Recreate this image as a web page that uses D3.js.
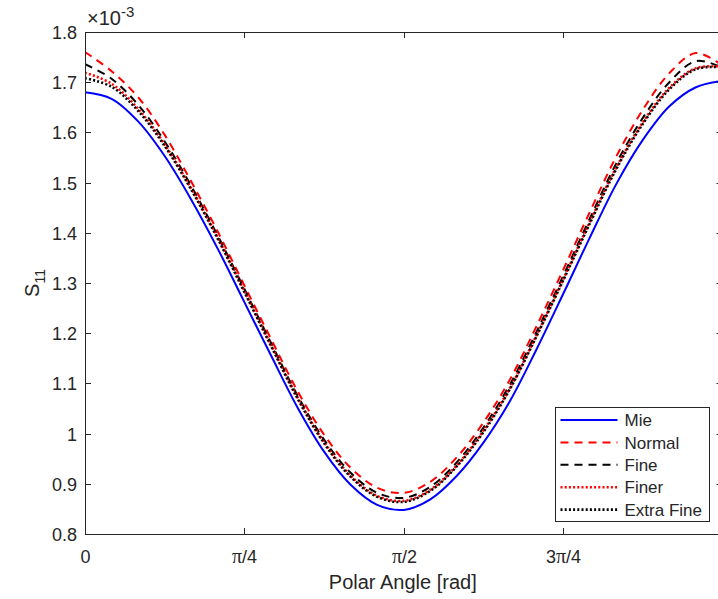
<!DOCTYPE html>
<html>
<head>
<meta charset="utf-8">
<script src="https://cdn.jsdelivr.net/npm/d3@7"></script>
<style>
  body { margin: 0; background: #fff; }
  text { font-family: "Liberation Sans", Arial, sans-serif; fill: #262626; }
</style>
</head>
<body>
<svg width="718" height="599"></svg>
<script>
// polar angle in degrees (plotted in rad)
var angles = [0, 7.5, 15, 22.5, 30, 37.5, 45, 52.5, 60, 67.5, 75, 82.5, 90,
    97.5, 105, 112.5, 120, 127.5, 135, 142.5, 150, 157.5, 165, 172.5, 180];

// S11 values, units of 1e-3
var mie = [1.680, 1.667, 1.622, 1.553, 1.466, 1.368, 1.262, 1.156, 1.052, 0.964, 0.898, 0.858, 0.848,
    0.869, 0.916, 0.982, 1.065, 1.168, 1.278, 1.390, 1.497, 1.585, 1.652, 1.690, 1.703];
var normal = [1.760, 1.722, 1.670, 1.595, 1.502, 1.402, 1.295, 1.189, 1.085, 0.998, 0.932, 0.892, 0.882,
    0.904, 0.953, 1.022, 1.108, 1.214, 1.326, 1.441, 1.552, 1.645, 1.718, 1.758, 1.733];
var fine = [1.736, 1.707, 1.655, 1.582, 1.493, 1.394, 1.288, 1.181, 1.076, 0.988, 0.922, 0.882, 0.872,
    0.894, 0.943, 1.012, 1.098, 1.203, 1.314, 1.428, 1.538, 1.629, 1.700, 1.742, 1.729];
var finer = [1.719, 1.697, 1.647, 1.576, 1.488, 1.390, 1.284, 1.177, 1.072, 0.983, 0.916, 0.876, 0.866,
    0.888, 0.937, 1.006, 1.091, 1.196, 1.307, 1.421, 1.530, 1.620, 1.689, 1.728, 1.731];
var extraFine = [1.708, 1.691, 1.643, 1.573, 1.486, 1.388, 1.282, 1.175, 1.070, 0.981, 0.914, 0.874, 0.864,
    0.886, 0.935, 1.003, 1.089, 1.194, 1.305, 1.418, 1.527, 1.617, 1.686, 1.726, 1.730];

var seriesNames = ["Mie", "Normal", "Fine", "Finer", "Extra Fine"];
var yTicks = [0.8, 0.9, 1, 1.1, 1.2, 1.3, 1.4, 1.5, 1.6, 1.7, 1.8];
var xTicks = [0, Math.PI / 4, Math.PI / 2, 3 * Math.PI / 4, Math.PI];
// het label bij pi valt buiten het venster, net als in het origineel
var xTickLabels = [["0"], ["π", "/4"], ["π", "/2"], ["3", "π", "/4"], []];

var series = [
    {name: seriesNames[0], values: mie, color: "#0000ff", dash: null, width: 2},
    {name: seriesNames[1], values: normal, color: "#ff0000", dash: "8,6", width: 2},
    {name: seriesNames[2], values: fine, color: "#000000", dash: "8,6", width: 2},
    {name: seriesNames[3], values: finer, color: "#ff0000", dash: "2,2.2", width: 2.6},
    {name: seriesNames[4], values: extraFine, color: "#000000", dash: "2,2.2", width: 2.6}
];

var svg = d3.select("svg"),
    margin = {top: 32, left: 85},
    width = 637.5,
    height = 502;

var x = d3.scaleLinear().domain([0, Math.PI]).range([0, width]),
    y = d3.scaleLinear().domain([0.8, 1.8]).range([height, 0]);

var g = svg.append("g")
    .attr("transform", "translate(" + margin.left + "," + margin.top + ")");

g.append("clipPath").attr("id", "clip")
    .append("rect").attr("width", width).attr("height", height);

var line = d3.line()
    .x(function (d) { return x(d.a * Math.PI / 180); })
    .y(function (d) { return y(d.v); })
    .curve(d3.curveCatmullRom);

// lijnen
var lines = g.append("g").attr("clip-path", "url(#clip)");
series.forEach(function (s) {
    var pts = angles.map(function (a, i) { return {a: a, v: s.values[i]}; });
    lines.append("path")
        .datum(pts)
        .attr("d", line)
        .attr("fill", "none")
        .attr("stroke", s.color)
        .attr("stroke-width", s.width)
        .attr("stroke-dasharray", s.dash);
});

// assen
var axisColor = "#262626";
var tickLen = 6;

g.append("rect")
    .attr("x", 0.5).attr("y", 0.5)
    .attr("width", width).attr("height", height)
    .attr("fill", "none")
    .attr("stroke", axisColor)
    .attr("stroke-width", 1);

yTicks.forEach(function (t) {
    var yy = Math.round(y(t)) + 0.5;
    g.append("line").attr("x1", 0).attr("x2", tickLen).attr("y1", yy).attr("y2", yy)
        .attr("stroke", axisColor);
    g.append("line").attr("x1", width - tickLen).attr("x2", width).attr("y1", yy).attr("y2", yy)
        .attr("stroke", axisColor);
    g.append("text")
        .attr("x", -8).attr("y", yy)
        .attr("dy", "0.35em")
        .attr("text-anchor", "end")
        .style("font-size", "18px")
        .text(d3.format("~g")(t));
});

xTicks.forEach(function (t, i) {
    var xx = Math.round(x(t)) + 0.5;
    g.append("line").attr("x1", xx).attr("x2", xx).attr("y1", height).attr("y2", height - tickLen)
        .attr("stroke", axisColor);
    g.append("line").attr("x1", xx).attr("x2", xx).attr("y1", 0).attr("y2", tickLen)
        .attr("stroke", axisColor);
    if (!xTickLabels[i].length) return;
    var txt = g.append("text")
        .attr("x", xx).attr("y", height + 29)
        .attr("text-anchor", "middle")
        .style("font-size", "18px");
    xTickLabels[i].forEach(function (part) {
        var ts = txt.append("tspan").text(part);
        if (part === "π") ts.style("font-family", "'Liberation Serif', serif").style("font-size", "20px");
    });
});

// aslabels
g.append("text")
    .attr("x", width / 2 - 1).attr("y", height + 55)
    .attr("text-anchor", "middle")
    .style("font-size", "20px")
    .text("Polar Angle [rad]");

var yl = g.append("text")
    .attr("transform", "translate(" + (-46) + "," + (height / 2) + ") rotate(-90)")
    .attr("text-anchor", "middle")
    .style("font-size", "20px");
yl.append("tspan").text("S");
yl.append("tspan").attr("dy", 6).style("font-size", "14px").text("11");

// exponent boven de y-as
var ex = g.append("text")
    .attr("x", 2).attr("y", -7)
    .attr("font-size", 20)
    .style("font-size", "20px");
ex.append("tspan").style("font-size", "20px").text("×10");
ex.append("tspan").attr("dy", -8).style("font-size", "15px").text("-3");

// legenda
var legend = svg.append("g").attr("transform", "translate(555.5,407.5)");
legend.append("rect")
    .attr("width", 154).attr("height", 114)
    .attr("fill", "#fff")
    .attr("stroke", axisColor)
    .attr("stroke-width", 1);

series.forEach(function (s, i) {
    var ly = 12.5 + i * 22.4;
    legend.append("line")
        .attr("x1", 5).attr("x2", 62)
        .attr("y1", ly).attr("y2", ly)
        .attr("stroke", s.color)
        .attr("stroke-width", s.width)
        .attr("stroke-dasharray", s.dash);
    legend.append("text")
        .attr("x", 69).attr("y", ly)
        .attr("dy", "0.36em")
        .style("font-size", "17px")
        .text(s.name);
});
</script>
</body>
</html>
